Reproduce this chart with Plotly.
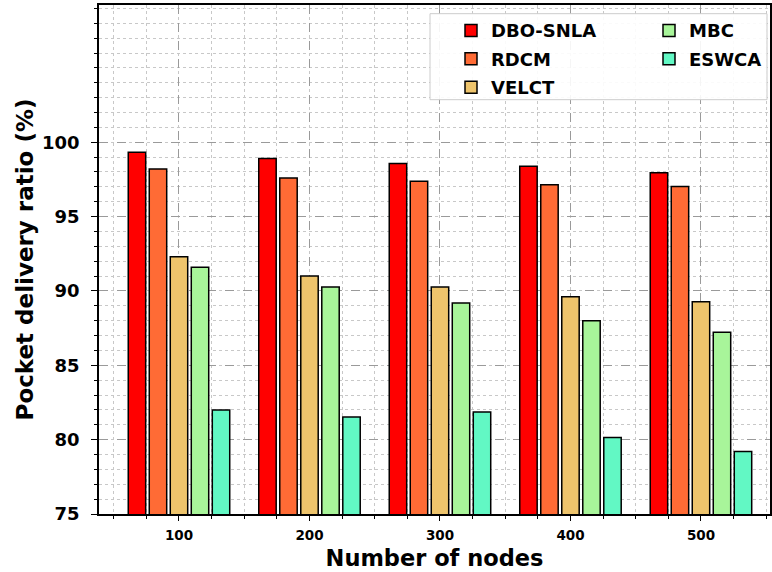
import plotly.graph_objects as go

nodes = [100, 200, 300, 400, 500]
series_names = ["DBO-SNLA", "RDCM", "VELCT", "MBC", "ESWCA"]
dbo_snla = [99.33, 98.9, 98.57, 98.39, 97.95]
rdcm = [98.2, 97.6, 97.37, 97.14, 97.03]
velct = [92.3, 91.0, 90.26, 89.61, 89.28]
mbc = [91.6, 90.26, 89.19, 88.0, 87.22]
eswca = [82.0, 81.52, 81.86, 80.14, 79.2]
y_ticks = [75, 80, 85, 90, 95, 100]
x_ticks = [100, 200, 300, 400, 500]

values = [dbo_snla, rdcm, velct, mbc, eswca]
colors = ["#FF0000", "#FF6B35", "#EEC46C", "#A8F59A", "#62F8C4"]
legends = ["legend", "legend", "legend", "legend2", "legend2"]

W, H = 772, 572
L, R, T, B = 99, 770, 5.3, 514.3

def px_x(p):
    return (p - L) / (R - L)

def px_y(p):
    return (B - p) / (B - T)

fig = go.Figure()
for name, vals, col, lg in zip(series_names, values, colors, legends):
    fig.add_trace(go.Bar(
        x=nodes, y=vals, name=name, legend=lg, legendgroup=name,
        marker=dict(color=col, line=dict(color="black", width=1.5)),
    ))

bold = dict(family="DejaVu Sans", color="black", weight="bold")

fig.update_layout(
    width=W, height=H,
    margin=dict(l=L, r=W - R, t=T, b=H - B, autoexpand=False),
    paper_bgcolor="white", plot_bgcolor="white",
    barmode="group", bargap=0.195, bargroupgap=0.17,
    font=dict(family="DejaVu Sans", color="black"),
    showlegend=True,
    legend=dict(
        x=px_x(451), y=px_y(12.5), xanchor="left", yanchor="top",
        bgcolor="rgba(0,0,0,0)", borderwidth=0,
        font=dict(size=18, **bold), tracegroupgap=2,
        orientation="v",
    ),
    legend2=dict(
        x=px_x(649), y=px_y(12.5), xanchor="left", yanchor="top",
        bgcolor="rgba(0,0,0,0)", borderwidth=0,
        font=dict(size=18, **bold), tracegroupgap=2,
        orientation="v",
    ),
    shapes=[dict(
        type="rect", xref="paper", yref="paper",
        x0=px_x(430), x1=px_x(767), y0=px_y(100), y1=px_y(14),
        fillcolor="rgba(255,255,255,0.9)", line=dict(color="#cccccc", width=1),
        layer="above",
    )],
)

fig.update_xaxes(
    range=[38.7, 552.9], automargin=False,
    tickvals=x_ticks, ticktext=[str(v) for v in x_ticks],
    tickfont=dict(size=13.5, **bold),
    ticks="outside", ticklen=5, tickwidth=1.2, tickcolor="black",
    ticklabelstandoff=3,
    showline=True, linecolor="black", linewidth=1.5, mirror=True,
    showgrid=True, gridcolor="#9a9a9a", gridwidth=1, griddash="dash",
    minor=dict(dtick=25, tick0=0, ticks="outside", ticklen=3, tickcolor="black",
               showgrid=True, gridcolor="#c8c8c8", gridwidth=1, griddash="dot"),
    title=dict(text="Number of nodes", font=dict(size=22.5, **bold), standoff=8),
    zeroline=False,
)
fig.update_yaxes(
    range=[75, 109.23], automargin=False,
    tickvals=y_ticks, ticktext=[str(v) for v in y_ticks],
    tickfont=dict(size=18, **bold),
    ticks="outside", ticklen=6, tickwidth=1.2, tickcolor="black",
    ticklabelstandoff=8,
    showline=True, linecolor="black", linewidth=1.5, mirror=True,
    showgrid=True, gridcolor="#9a9a9a", gridwidth=1, griddash="dash",
    minor=dict(dtick=1, tick0=0, ticks="outside", ticklen=3, tickcolor="black",
               showgrid=True, gridcolor="#c8c8c8", gridwidth=1, griddash="dot"),
    title=dict(text="Pocket delivery ratio (%)", font=dict(size=23, **bold), standoff=2),
    zeroline=False,
)

fig.write_html(
    "out.html",
    config={"displayModeBar": False},
    post_script="document.body.style.margin='0';document.body.style.padding='0';",
)
